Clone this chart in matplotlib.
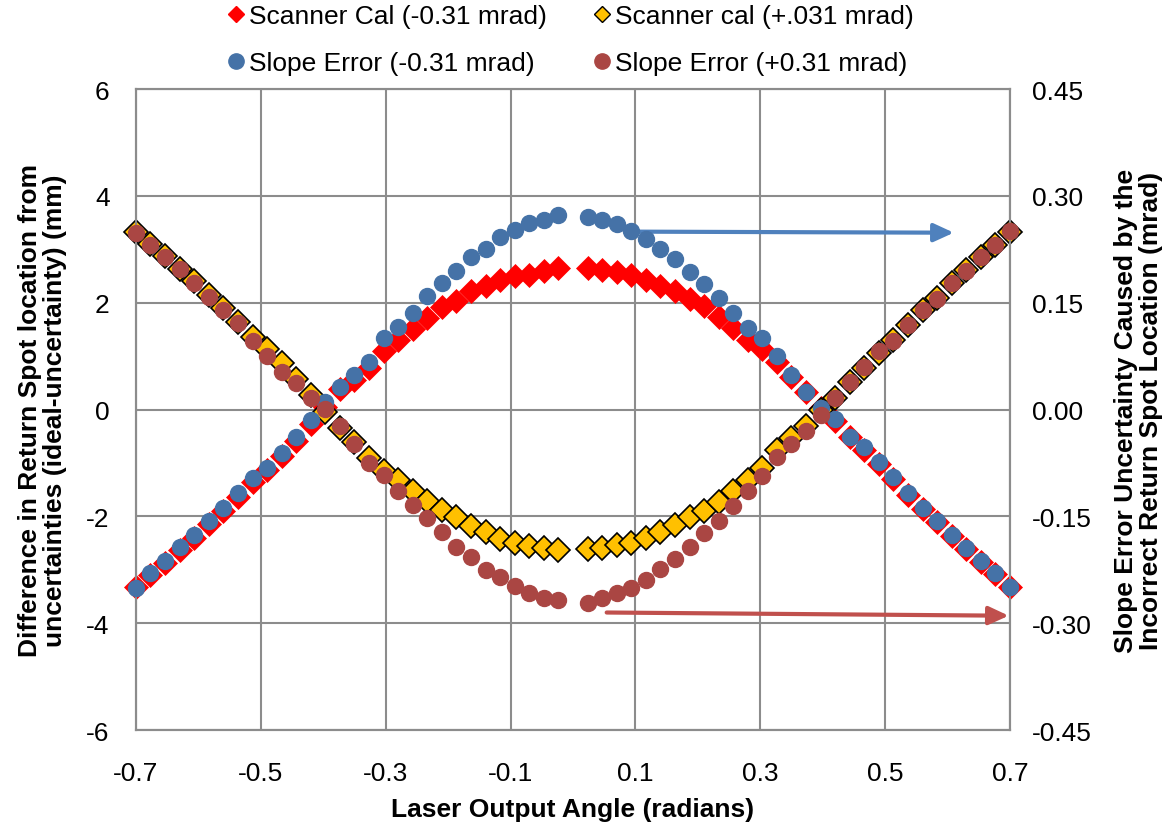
import matplotlib
matplotlib.use("Agg")
import matplotlib.pyplot as plt
from matplotlib.ticker import FormatStrFormatter

plt.rcParams['font.family'] = ['Liberation Sans', 'DejaVu Sans']
plt.rcParams['axes.unicode_minus'] = False

# Laser output angle (radians)
angle_left = [-0.7, -0.6767, -0.6533, -0.63, -0.6067, -0.5833, -0.56, -0.5367, -0.5133, -0.49,
              -0.4667, -0.4433, -0.42, -0.3967, -0.3733, -0.35, -0.3267, -0.3033, -0.28, -0.2567,
              -0.2333, -0.21, -0.1867, -0.1633, -0.14, -0.1167, -0.0933, -0.07, -0.0467, -0.0233]
angle_right = [0.0233, 0.0467, 0.07, 0.0933, 0.1167, 0.14, 0.1633, 0.1867, 0.21, 0.2333,
               0.2567, 0.28, 0.3033, 0.3267, 0.35, 0.3733, 0.3967, 0.42, 0.4433, 0.4667,
               0.49, 0.5133, 0.5367, 0.56, 0.5833, 0.6067, 0.63, 0.6533, 0.6767, 0.7]

# Scanner Cal (-0.31 mrad), mm (left axis)
scan_neg_left = [-3.32, -3.10, -2.87, -2.63, -2.40, -2.15, -1.90, -1.63, -1.36, -1.13,
                 -0.87, -0.58, -0.27, 0.05, 0.39, 0.55, 0.77, 1.09, 1.30, 1.51,
                 1.71, 1.92, 2.04, 2.21, 2.31, 2.42, 2.50, 2.52, 2.59, 2.64]
scan_neg_right = [2.64, 2.62, 2.57, 2.51, 2.42, 2.32, 2.21, 2.07, 1.94, 1.73,
                  1.53, 1.31, 1.14, 0.89, 0.61, 0.32, 0.03, -0.22, -0.52, -0.75,
                  -1.02, -1.30, -1.60, -1.86, -2.11, -2.36, -2.61, -2.85, -3.08, -3.32]

# Scanner cal (+.031 mrad), mm (left axis)
scan_pos_left = [3.32, 3.10, 2.87, 2.63, 2.40, 2.15, 1.90, 1.63, 1.36, 1.13,
                 0.87, 0.58, 0.27, -0.05, -0.35, -0.60, -0.90, -1.15, -1.31, -1.53,
                 -1.71, -1.89, -2.02, -2.18, -2.30, -2.42, -2.49, -2.55, -2.60, -2.63]
scan_pos_right = [-2.62, -2.59, -2.54, -2.49, -2.40, -2.29, -2.17, -2.02, -1.90, -1.73,
                  -1.53, -1.31, -1.09, -0.75, -0.53, -0.30, 0.00, 0.22, 0.52, 0.77,
                  1.05, 1.30, 1.58, 1.86, 2.09, 2.37, 2.61, 2.85, 3.08, 3.32]

# Slope Error (-0.31 mrad), mrad (right axis)
slope_neg_left = [-0.250, -0.230, -0.212, -0.193, -0.176, -0.157, -0.138, -0.117, -0.096, -0.082,
                  -0.061, -0.039, -0.015, 0.010, 0.031, 0.048, 0.067, 0.101, 0.116, 0.136,
                  0.159, 0.177, 0.195, 0.214, 0.226, 0.242, 0.252, 0.262, 0.266, 0.273]
slope_neg_right = [0.270, 0.266, 0.261, 0.250, 0.240, 0.226, 0.211, 0.193, 0.176, 0.157,
                   0.136, 0.115, 0.101, 0.075, 0.048, 0.024, 0.002, -0.014, -0.038, -0.053,
                   -0.074, -0.095, -0.117, -0.138, -0.157, -0.176, -0.194, -0.212, -0.230, -0.249]

# Slope Error (+0.31 mrad), mrad (right axis)
slope_pos_left = [0.248, 0.231, 0.214, 0.197, 0.178, 0.158, 0.140, 0.121, 0.096, 0.075,
                  0.053, 0.037, 0.016, 0.001, -0.023, -0.048, -0.075, -0.092, -0.115, -0.134,
                  -0.153, -0.172, -0.193, -0.207, -0.226, -0.235, -0.248, -0.258, -0.265, -0.268]
slope_pos_right = [-0.271, -0.265, -0.258, -0.251, -0.239, -0.224, -0.210, -0.193, -0.174, -0.157,
                   -0.136, -0.115, -0.093, -0.066, -0.048, -0.030, -0.008, 0.016, 0.039, 0.059,
                   0.082, 0.096, 0.119, 0.140, 0.155, 0.178, 0.195, 0.214, 0.231, 0.250]

x_ticks = [-0.7, -0.5, -0.3, -0.1, 0.1, 0.3, 0.5, 0.7]
y_left_ticks = [-6, -4, -2, 0, 2, 4, 6]
y_right_ticks = [-0.45, -0.30, -0.15, 0.00, 0.15, 0.30, 0.45]

labels = ["Scanner Cal (-0.31 mrad)", "Scanner cal (+.031 mrad)",
          "Slope Error (-0.31 mrad)", "Slope Error (+0.31 mrad)"]

c_red = "#FF0000"
c_yel = "#FFC000"
c_blue = "#4572A7"
c_brown = "#AA4643"
grid_c = "#8C8C8C"
FS = 19

fig = plt.figure(figsize=(11.74, 8.28), dpi=100)
ax = fig.add_axes([0.1158, 0.1171, 0.7445, 0.7742])
ax2 = ax.twinx()

ms = 11.5
ds = 12
common = dict(ls='none', clip_on=False)
h1, = ax.plot(angle_left, scan_neg_left, marker='D', ms=ds, color=c_red, mec=c_red, mew=0.5, zorder=3, **common)
ax.plot(angle_right, scan_neg_right, marker='D', ms=ds, color=c_red, mec=c_red, mew=0.5, zorder=3, **common)
h2, = ax.plot(angle_left, scan_pos_left, marker='D', ms=ds, color=c_yel, mec='black', mew=1.2, zorder=4, **common)
ax.plot(angle_right, scan_pos_right, marker='D', ms=ds, color=c_yel, mec='black', mew=1.2, zorder=4, **common)
h3, = ax2.plot(angle_left, slope_neg_left, marker='o', ms=ms, color=c_blue, mec=c_blue, zorder=3, **common)
ax2.plot(angle_right, slope_neg_right, marker='o', ms=ms, color=c_blue, mec=c_blue, zorder=3, **common)
h4, = ax2.plot(angle_left, slope_pos_left, marker='o', ms=ms, color=c_brown, mec=c_brown, zorder=4, **common)
ax2.plot(angle_right, slope_pos_right, marker='o', ms=ms, color=c_brown, mec=c_brown, zorder=4, **common)

ax.set_xlim(-0.7, 0.7)
ax.set_ylim(-6, 6)
ax2.set_ylim(-0.45, 0.45)
ax.set_xticks(x_ticks)
ax.set_xticklabels([f"{v:.1f}" for v in x_ticks])
ax.set_yticks(y_left_ticks)
ax2.set_yticks(y_right_ticks)
ax2.yaxis.set_major_formatter(FormatStrFormatter('%.2f'))

ax.grid(True, color=grid_c, lw=1.5)
ax.set_axisbelow(True)
for a in (ax, ax2):
    for s in a.spines.values():
        s.set_color(grid_c)
        s.set_linewidth(1.5)
    a.tick_params(length=0, labelsize=FS)
ax.tick_params(axis='y', pad=19)
ax2.tick_params(axis='y', pad=16)
ax.tick_params(axis='x', pad=22)

ax.set_xlabel("Laser Output Angle (radians)", fontsize=FS, fontweight='bold', labelpad=9)
ax.set_ylabel("Difference in Return Spot location from\nuncertainties (ideal-uncertainty) (mm)",
              fontsize=FS, fontweight='bold', labelpad=14, linespacing=1.05)
ax2.set_ylabel("Slope Error Uncertainty Caused by the\nIncorrect Return Spot Location (mrad)",
               fontsize=FS, fontweight='bold', labelpad=16, linespacing=1.05)

# arrows pointing to the secondary axis
ax.annotate("", xy=(0.61, 3.31), xytext=(0.094, 3.33),
            arrowprops=dict(arrowstyle="-|>,head_length=1.2,head_width=0.55", color="#4F81BD", lw=3,
                            shrinkA=0, shrinkB=0), zorder=6)
ax.annotate("", xy=(0.698, -3.86), xytext=(0.054, -3.80),
            arrowprops=dict(arrowstyle="-|>,head_length=1.2,head_width=0.55", color="#C0504D", lw=3,
                            shrinkA=0, shrinkB=0), zorder=6)

leg_handles = [
    plt.Line2D([], [], ls='none', marker='D', ms=8, color=c_red),
    plt.Line2D([], [], ls='none', marker='o', ms=11, color=c_blue),
    plt.Line2D([], [], ls='none', marker='D', ms=8, color=c_yel, mec='black', mew=1),
    plt.Line2D([], [], ls='none', marker='o', ms=11, color=c_brown),
]
leg_labels = [labels[0], labels[2], labels[1], labels[3]]
fig.legend(leg_handles, leg_labels, ncol=2, loc='upper center', bbox_to_anchor=(0.4841, 1.016),
           frameon=False, fontsize=FS, handletextpad=0.0, columnspacing=1.58, labelspacing=0.87,
           handlelength=1.0, borderpad=0.2)

fig.savefig("out.png", dpi=100)
